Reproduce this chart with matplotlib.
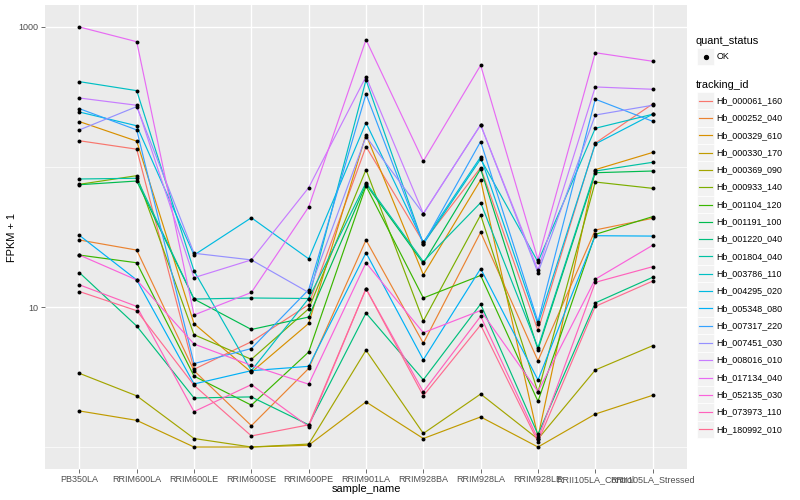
import matplotlib.pyplot as plt
from matplotlib.patches import Rectangle
from matplotlib.lines import Line2D
from matplotlib.ticker import NullFormatter
import numpy as np

plt.rcParams['font.family'] = ['Liberation Sans', 'DejaVu Sans']

# x 轴样本
samples = ['PB350LA', 'RRIM600LA', 'RRIM600LE', 'RRIM600SE', 'RRIM600PE',
           'RRIM901LA', 'RRIM928BA', 'RRIM928LA', 'RRIM928LE',
           'RRII105LA_Control', 'RRII105LA_Stressed']

tracking_ids = ['Hb_000061_160', 'Hb_000252_040', 'Hb_000329_610', 'Hb_000330_170',
                'Hb_000369_090', 'Hb_000933_140', 'Hb_001104_120', 'Hb_001191_100',
                'Hb_001220_040', 'Hb_001804_040', 'Hb_003786_110', 'Hb_004295_020',
                'Hb_005348_080', 'Hb_007317_220', 'Hb_007451_030', 'Hb_008016_010',
                'Hb_017134_040', 'Hb_052135_030', 'Hb_073973_110', 'Hb_180992_010']

# ggplot hue 颜色
colors = ['#F8766D', '#EA8331', '#D89000', '#C09B00', '#A3A500', '#7CAE00',
          '#39B600', '#00BB4E', '#00BF7D', '#00C1A3', '#00BFC4', '#00BAE0',
          '#00B0F6', '#35A2FF', '#9590FF', '#C77CFF', '#E76BF3', '#FA62DB',
          '#FF62BC', '#FF6C91']

# FPKM + 1 (每个基因一行)
hb_000061_160 = [154, 134, 3.59, 5.65, 10.4, 140, 29.0, 98.9, 6.80, 148, 282]
hb_000252_040 = [30.1, 25.5, 3.51, 1.42, 3.64, 30.1, 5.51, 34.2, 4.13, 35.5, 43.0]
hb_000329_610 = [211, 153, 7.60, 3.42, 7.63, 170, 17.0, 80.7, 1.18, 95.7, 127]
hb_000330_170 = [1.81, 1.55, 1.0, 1.0, 1.03, 2.10, 1.15, 1.64, 1.0, 1.72, 2.34]
hb_000369_090 = [3.36, 2.32, 1.15, 1.0, 1.05, 4.91, 1.25, 2.39, 1.14, 3.55, 5.29]
hb_000933_140 = [75.2, 86.7, 6.34, 4.23, 9.71, 95.7, 7.94, 45.4, 2.47, 78.1, 70.4]
hb_001104_120 = [23.5, 20.7, 3.21, 1.99, 4.77, 73.2, 11.6, 16.8, 2.12, 33.0, 44.2]
hb_001191_100 = [74.7, 79.4, 11.4, 6.91, 8.48, 75.2, 20.5, 96.8, 4.97, 91.0, 93.6]
hb_001220_040 = [17.6, 7.31, 2.24, 2.28, 1.44, 9.06, 3.02, 10.5, 1.23, 10.7, 16.3]
hb_001804_040 = [82.1, 83.1, 11.4, 11.6, 11.5, 77.2, 21.1, 55.6, 5.13, 93.6, 108]
hb_003786_110 = [407, 351, 18.1, 3.51, 11.5, 418, 28.2, 114, 21.0, 189, 238]
hb_004295_020 = [247, 197, 23.5, 43.4, 22.1, 207, 29.0, 118, 7.56, 146, 238]
hb_005348_080 = [32.5, 15.6, 2.82, 3.51, 3.77, 24.4, 4.20, 18.8, 3.01, 32.3, 32.1]
hb_007317_220 = [261, 184, 3.94, 5.05, 13.3, 332, 28.2, 152, 7.85, 305, 212]
hb_007451_030 = [184, 270, 24.2, 21.7, 12.7, 165, 46.4, 200, 17.6, 235, 276]
hb_008016_010 = [311, 276, 16.2, 21.7, 71.2, 442, 46.4, 200, 18.4, 373, 359]
hb_017134_040 = [1000, 785, 8.77, 12.7, 51.8, 811, 110, 533, 21.8, 655, 569]
hb_052135_030 = [23.5, 15.6, 5.44, 3.83, 2.81, 20.7, 6.55, 9.44, 2.49, 15.8, 27.6]
hb_073973_110 = [14.4, 10.1, 1.79, 2.79, 1.40, 13.5, 2.48, 8.58, 1.14, 15.0, 19.4]
hb_180992_010 = [12.9, 9.41, 2.76, 1.20, 1.44, 13.5, 2.32, 7.44, 1.09, 10.1, 15.3]

series = [hb_000061_160, hb_000252_040, hb_000329_610, hb_000330_170, hb_000369_090,
          hb_000933_140, hb_001104_120, hb_001191_100, hb_001220_040, hb_001804_040,
          hb_003786_110, hb_004295_020, hb_005348_080, hb_007317_220, hb_007451_030,
          hb_008016_010, hb_017134_040, hb_052135_030, hb_073973_110, hb_180992_010]

W, H = 800, 500
fig = plt.figure(figsize=(8, 5), dpi=100)
ax = fig.add_axes([45 / W, 1 - 469 / H, (687 - 45) / W, (469 - 5) / H])
ax.set_facecolor('#EBEBEB')
for s in ax.spines.values():
    s.set_visible(False)

x = np.arange(len(samples))
for vals, c in zip(series, colors):
    ax.plot(x, vals, color=c, lw=0.85, zorder=2)
for vals in series:
    ax.scatter(x, vals, s=8, color='black', zorder=3, linewidths=0)

ax.set_yscale('log')
ax.set_ylim(10 ** -0.157, 10 ** 3.157)
ax.set_xlim(-0.6, len(samples) - 0.4)
ax.set_xticks(x)
ax.set_xticklabels(samples)
ax.set_yticks([10, 1000])
ax.set_yticklabels(['10', '1000'])
ax.set_yticks([1, 100], minor=True)
ax.yaxis.set_minor_formatter(NullFormatter())
ax.grid(which='major', color='white', lw=1.0)
ax.grid(which='minor', axis='y', color='white', lw=0.5)
ax.set_axisbelow(True)
ax.tick_params(which='major', length=3, width=0.5, color='#333333',
               labelcolor='#4D4D4D', labelsize=6.5, pad=1.5)
ax.tick_params(which='minor', length=0)

fig.text(366 / W, 1 - 489.5 / H, 'sample_name', ha='center', va='center', fontsize=7.9)
fig.text(12 / W, 1 - 237 / H, 'FPKM + 1', ha='center', va='center',
         rotation=90, fontsize=7.9)


# 图例（手动画）
def px(xp, yp):
    return xp / W, 1 - yp / H


fig.text(*px(696, 40.7), 'quant_status', ha='left', va='center', fontsize=7.9)
fig.add_artist(Rectangle(px(697, 65), 17 / W, 17 / H, transform=fig.transFigure,
                         facecolor='#F2F2F2', edgecolor='white', lw=0.5))
fig.add_artist(Line2D([705.5 / W], [1 - 56.5 / H], transform=fig.transFigure,
                      marker='o', markersize=2.8, color='black', lw=0))
fig.text(*px(716.5, 56.5), 'OK', ha='left', va='center', fontsize=6.4)

fig.text(*px(696, 85), 'tracking_id', ha='left', va='center', fontsize=7.9)
for i, (tid, c) in enumerate(zip(tracking_ids, colors)):
    yc = 100.7 + 17.3 * i
    fig.add_artist(Rectangle(px(697, yc + 8.6), 17.3 / W, 17.3 / H,
                             transform=fig.transFigure, facecolor='#F2F2F2',
                             edgecolor='white', lw=0.5))
    fig.add_artist(Line2D([699 / W, 712 / W], [1 - yc / H, 1 - yc / H],
                          transform=fig.transFigure, color=c, lw=0.85))
    fig.text(*px(716.5, yc), tid, ha='left', va='center', fontsize=6.4)

fig.savefig('out.png', dpi=100)
